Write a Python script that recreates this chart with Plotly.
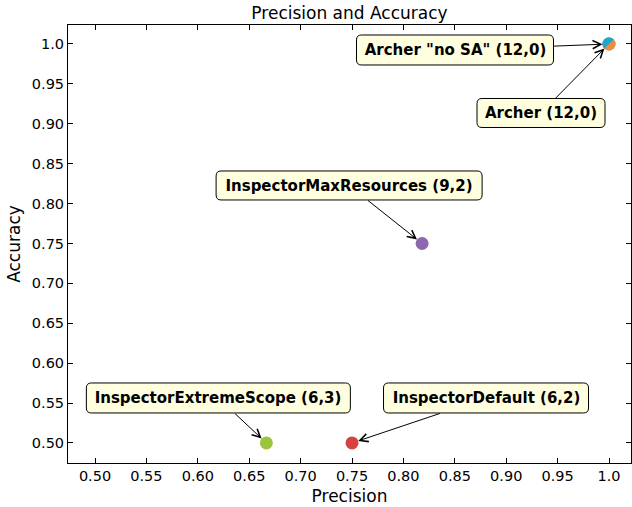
import numpy as np
import plotly.graph_objects as go

# Detector results: precision vs accuracy, label shows (true positives, false positives)
names = [
    "InspectorExtremeScope (6,3)",
    "InspectorDefault (6,2)",
    "InspectorMaxResources (9,2)",
    'Archer "no SA" (12,0)',
    "Archer (12,0)",
]
precision = [6 / 9, 6 / 8, 9 / 11, 1.0, 1.0]
accuracy = [0.5, 0.5, 0.75, 1.0, 1.0]
colors = ["#9bc53d", "#d64141", "#8d68b0", "#1aa9c8", "#f28a3c"]

tick_vals = [0.50, 0.55, 0.60, 0.65, 0.70, 0.75, 0.80, 0.85, 0.90, 0.95, 1.0]
tick_text = ["0.50", "0.55", "0.60", "0.65", "0.70", "0.75", "0.80", "0.85", "0.90", "0.95", "1.0"]

# label box placement (pixel offset of box centre from the point) and box size
label_dx = [-48, 134, -73, -154, -68]
label_dy = [-45, -45, -58, 6, 69]
box_w = [264, 205, 266, 197, 128]
box_h = [30, 30, 29, 30, 29]

FONT = "DejaVu Sans"
fig = go.Figure()

# Draw order: cyan ("no SA") first, orange (Archer) on top, then the rest
order = [3, 4, 0, 1, 2]
for i in order:
    fig.add_trace(go.Scatter(
        x=[precision[i]], y=[accuracy[i]], mode="markers",
        marker=dict(size=13, color=colors[i], line=dict(width=0)),
        name=names[i], showlegend=False,
    ))

# cyan half over the shared Archer point (upper-left half)
r = 6.5
th = np.linspace(np.pi / 4, np.pi / 4 + np.pi, 24)
pts = [(r * np.cos(t), r * np.sin(t)) for t in th]
half_path = "M " + " L ".join(f"{px:.2f},{py:.2f}" for px, py in pts) + " Z"
fig.add_shape(type="path", xsizemode="pixel", ysizemode="pixel",
              xanchor=precision[3], yanchor=accuracy[3], path=half_path,
              fillcolor=colors[3], line=dict(width=0), layer="above")


def rounded_box(cx, cy, w, h, rad=5):
    x0, x1 = cx - w / 2, cx + w / 2
    y0, y1 = cy - h / 2, cy + h / 2
    return (f"M {x0 + rad},{y0} L {x1 - rad},{y0} Q {x1},{y0} {x1},{y0 + rad} "
            f"L {x1},{y1 - rad} Q {x1},{y1} {x1 - rad},{y1} "
            f"L {x0 + rad},{y1} Q {x0},{y1} {x0},{y1 - rad} "
            f"L {x0},{y0 + rad} Q {x0},{y0} {x0 + rad},{y0} Z")


for i in range(len(names)):
    fig.add_shape(type="path", xsizemode="pixel", ysizemode="pixel",
                  xanchor=precision[i], yanchor=accuracy[i],
                  path=rounded_box(label_dx[i], -label_dy[i], box_w[i], box_h[i]),
                  fillcolor="#ffffe0", line=dict(color="black", width=1),
                  layer="above")
    fig.add_annotation(
        x=precision[i], y=accuracy[i], ax=label_dx[i], ay=label_dy[i],
        text=f"<b>{names[i]}</b>", showarrow=True,
        arrowhead=5, arrowsize=1.6, arrowwidth=1, arrowcolor="black",
        standoff=6.5, width=box_w[i], height=box_h[i], borderpad=0,
        font=dict(family=FONT, size=15, color="black"),
    )

axis_common = dict(
    showline=True, linecolor="black", linewidth=1, mirror="ticks",
    ticks="inside", ticklen=5, tickcolor="black", tickwidth=1,
    showgrid=False, zeroline=False,
    tickvals=tick_vals, ticktext=tick_text,
    tickfont=dict(family=FONT, size=14.5, color="black"),
)

fig.update_layout(
    width=632, height=507,
    margin=dict(l=68, r=1, t=25, b=44),
    plot_bgcolor="white", paper_bgcolor="white",
    font=dict(family=FONT, color="black"),
    title=dict(text="Precision and Accuracy", x=0.5, xref="paper",
               y=1 - 13 / 507, yref="container", yanchor="middle",
               font=dict(family=FONT, size=17, color="black")),
    xaxis=dict(range=[0.4737, 1.0214],
               title=dict(text="Precision", font=dict(family=FONT, size=17), standoff=6),
               **axis_common),
    yaxis=dict(range=[0.4749, 1.0238],
               title=dict(text="Accuracy", font=dict(family=FONT, size=17), standoff=6),
               **axis_common),
)

fig.write_html("out.html")
